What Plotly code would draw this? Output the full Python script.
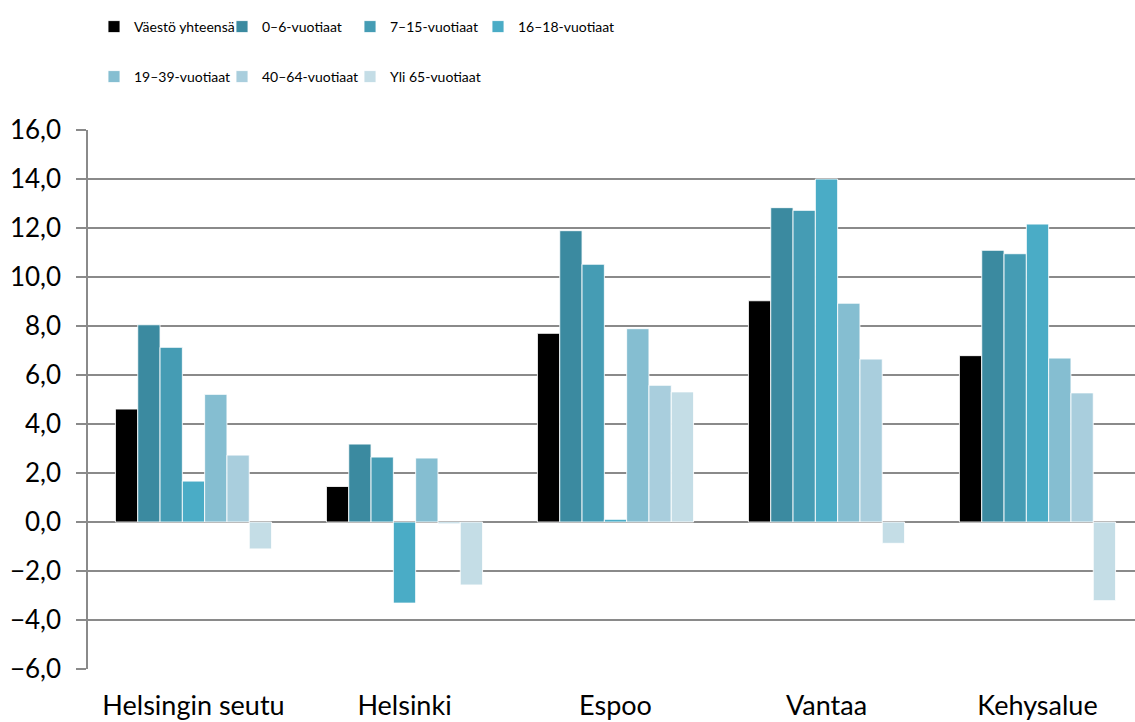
import plotly.graph_objects as go

categories = ["Helsingin seutu", "Helsinki", "Espoo", "Vantaa", "Kehysalue"]
series_names = ["Väestö yhteensä", "0–6-vuotiaat", "7–15-vuotiaat", "16–18-vuotiaat",
                "19–39-vuotiaat", "40–64-vuotiaat", "Yli 65-vuotiaat"]
vaesto_yhteensa = [4.61, 1.45, 7.70, 9.03, 6.79]
v0_6 = [8.05, 3.18, 11.89, 12.83, 11.09]
v7_15 = [7.13, 2.65, 10.52, 12.72, 10.95]
v16_18 = [1.67, -3.31, 0.11, 14.00, 12.16]
v19_39 = [5.21, 2.61, 7.89, 8.93, 6.69]
v40_64 = [2.73, -0.07, 5.58, 6.65, 5.27]
yli65 = [-1.10, -2.57, 5.31, -0.87, -3.21]
series_values = [vaesto_yhteensa, v0_6, v7_15, v16_18, v19_39, v40_64, yli65]
colors = ["#000000", "#3B8AA0", "#459CB4", "#4AACC6", "#85BED1", "#A9CEDD", "#C4DDE6"]
y_ticks = [-6, -4, -2, 0, 2, 4, 6, 8, 10, 12, 14, 16]

W, H = 1135, 722
fig = go.Figure()
for i, (name, vals, col) in enumerate(zip(series_names, series_values, colors)):
    last_in_row = i in (3, 6)
    fig.add_trace(go.Bar(
        x=categories, y=vals, name=name,
        marker=dict(color=col, line=dict(color="rgba(255,255,255,0.85)", width=1)),
        legend="legend" if i < 4 else "legend2",
        legendwidth=130 if last_in_row else None,
    ))

legend_font = dict(family="Lato, Open Sans", size=14, color="#000000")
legend_common = dict(orientation="h", xref="container", yref="container",
                     xanchor="left", yanchor="middle", font=legend_font,
                     entrywidth=83, entrywidthmode="pixels", bgcolor="rgba(0,0,0,0)",
                     itemclick=False, itemdoubleclick=False, traceorder="normal")

grid = "#8a8a8a"
tick_font = dict(family="Lato, Open Sans", size=26, color="#000000")
cat_font = dict(family="Lato, Open Sans", size=27, color="#000000")
fig.update_layout(
    width=W, height=H,
    margin=dict(l=88, r=0, t=130, b=53),
    paper_bgcolor="white", plot_bgcolor="white",
    barmode="group", bargap=0.26, bargroupgap=0,
    separators=", ",
    font=tick_font,
    legend=dict(x=94 / W, y=1 - 27 / H, **legend_common),
    legend2=dict(x=94 / W, y=1 - 77 / H, **legend_common),
    xaxis=dict(range=[-0.5, -0.5 + (W - 88) / 211], showgrid=False, showline=False,
               ticks="", tickfont=cat_font, ticklabelstandoff=18, fixedrange=True),
    yaxis=dict(range=[-6, 16], tickvals=y_ticks, tickformat=".1f",
               showgrid=True, gridcolor=grid, gridwidth=1.5,
               zeroline=True, zerolinecolor=grid, zerolinewidth=1.5,
               showline=True, linecolor=grid, linewidth=1.5,
               ticks="outside", ticklen=10, tickcolor=grid, tickwidth=1.5,
               tickfont=tick_font, ticklabelstandoff=10, fixedrange=True),
)
fig.write_html("out.html", config={"displayModeBar": False},
               post_script="document.body.style.margin='0px';")
